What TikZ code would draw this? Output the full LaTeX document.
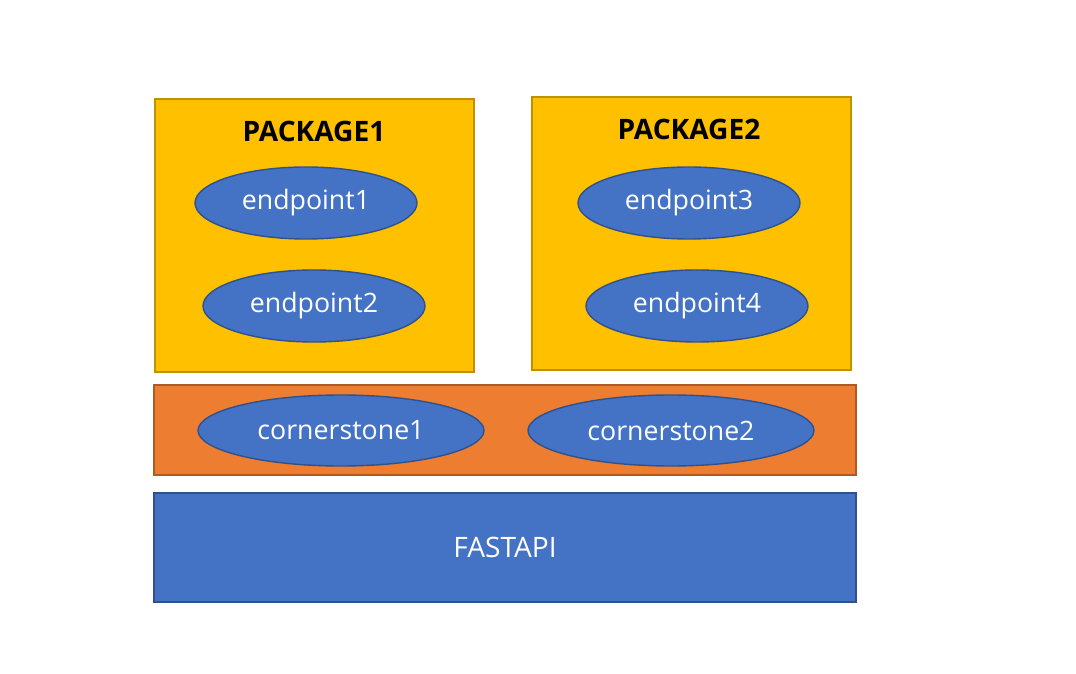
\documentclass[tikz,border=0pt]{standalone}
\usepackage{fontspec}
\setmainfont{Open Sans}
\usetikzlibrary{shapes.geometric}
\definecolor{gold}{HTML}{FFC000}
\definecolor{goldline}{HTML}{BF9000}
\definecolor{orangefill}{HTML}{ED7D31}
\definecolor{orangeline}{HTML}{AE5A21}
\definecolor{bluefill}{HTML}{4472C4}
\definecolor{blueline}{HTML}{2F528F}
\tikzset{
  pkg/.style = {rectangle, draw = goldline, fill = gold, line width = 1.2pt, minimum width = 319 * 0.025cm, minimum height = 273 * 0.025cm},
  ep/.style = {ellipse, draw = blueline, fill = bluefill, line width = 1pt, text = white, inner sep = 0pt, font = \fontsize{19}{22}\selectfont},
  bar/.style = {rectangle, line width = 1.2pt, minimum width = 702 * 0.025cm, text = white, font = \fontsize{20}{24}\selectfont}
}
\begin{document}
\begin{tikzpicture}[x = 0.025cm, y = -0.025cm]
  \useasboundingbox (0, 0) rectangle (1076, 674);
  \node[pkg] (pkg1) at (314.5, 235.5) {};
  \node[pkg] (pkg2) at (691.5, 233.5) {};
  \node[font = \fontsize{20}{24}\selectfont\bfseries] (title1) at (314, 131) {PACKAGE1};
  \node[font = \fontsize{20}{24}\selectfont\bfseries] (title2) at (689, 129) {PACKAGE2};
  \foreach \i/\x/\y in {1/306/203, 2/314/306, 3/689/203, 4/697/306} {
    \node[ep, minimum width = 222 * 0.025cm, minimum height = 72 * 0.025cm] (ep\i) at (\x, \y) {endpoint\i};
  }
  \node[bar, draw = orangeline, fill = orangefill, minimum height = 90 * 0.025cm] (base) at (505, 430) {};
  \foreach \i/\x in {1/341, 2/671} {
    \node[ep, minimum width = 286 * 0.025cm, minimum height = 71 * 0.025cm] (cs\i) at (\x, 430.5) {cornerstone\i};
  }
  \node[bar, draw = blueline, fill = bluefill, minimum height = 109 * 0.025cm] (fastapi) at (505, 547.5) {FASTAPI};
\end{tikzpicture}
\end{document}
